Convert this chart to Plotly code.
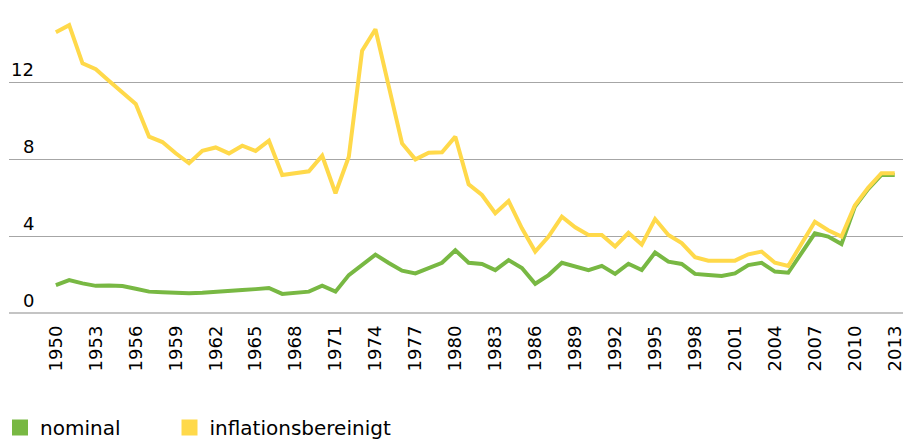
import plotly.graph_objects as go

years = list(range(1950, 2014))

nominal = [
    1.45, 1.71, 1.54, 1.41, 1.43, 1.40, 1.26, 1.11, 1.08, 1.05,
    1.02, 1.05, 1.08, 1.15, 1.19, 1.24, 1.30, 0.99, 1.06, 1.11,
    1.42, 1.11, 1.97, 2.53, 3.03, 2.60, 2.20, 2.06, 2.33, 2.61,
    3.26, 2.61, 2.55, 2.23, 2.75, 2.34, 1.52, 1.97, 2.61, 2.44,
    2.23, 2.45, 2.03, 2.56, 2.23, 3.14, 2.67, 2.55, 2.03, 1.97,
    1.92, 2.06, 2.49, 2.61, 2.15, 2.09, 3.15, 4.14, 3.97, 3.58,
    5.52, 6.44, 7.17, 7.17,
]

inflationsbereinigt = [
    14.58, 14.95, 12.97, 12.66, 12.05, 11.45, 10.86, 9.16, 8.88, 8.30,
    7.78, 8.43, 8.60, 8.29, 8.69, 8.42, 8.95, 7.17, 7.27, 7.36,
    8.17, 6.22, 8.12, 13.63, 14.74, 11.67, 8.81, 7.98, 8.33, 8.35,
    9.16, 6.68, 6.13, 5.18, 5.82, 4.40, 3.19, 3.97, 5.00, 4.45,
    4.05, 4.05, 3.46, 4.17, 3.55, 4.88, 4.05, 3.63, 2.90, 2.72,
    2.72, 2.72, 3.05, 3.19, 2.61, 2.44, 3.60, 4.74, 4.30, 3.97,
    5.58, 6.50, 7.26, 7.26,
]

x_tick_years = list(range(1950, 2014, 3))
y_grid = [0, 4, 8, 12, 16]
y_label_vals = [0, 4, 8, 12]
y_label_text = ["0", "4", "8", "12"]

series_names = ["nominal", "inflationsbereinigt"]
series_colors = ["#78B843", "#FFD94A"]
legend_ids = ["legend", "legend2"]

FONT = "DejaVu Sans, Verdana, sans-serif"

fig = go.Figure()
for name, vals, col in zip(series_names, [nominal, inflationsbereinigt], series_colors):
    fig.add_trace(go.Scatter(
        x=years, y=vals, mode="lines", name=name, showlegend=False,
        line=dict(color=col, width=4), hoverinfo="x+y+name",
    ))
# legend entries as filled squares
for name, col, lg in zip(series_names, series_colors, legend_ids):
    fig.add_trace(go.Scatter(
        x=[None], y=[None], mode="markers", name=name, legend=lg,
        marker=dict(symbol="square", size=16, color=col),
    ))

# y tick labels placed above the gridlines, right-aligned
for v, t in zip(y_label_vals, y_label_text):
    fig.add_annotation(
        x=0.0, xref="paper", y=v, yref="y", text=t, showarrow=False,
        xanchor="right", yanchor="bottom", xshift=27, yshift=0,
        font=dict(family=FONT, size=18, color="#000000"),
    )

legend_common = dict(
    orientation="h", xref="container", yref="container",
    y=0.0262, xanchor="left", yanchor="middle",
    font=dict(family=FONT, size=20, color="#000000"),
    bgcolor="rgba(0,0,0,0)",
)

fig.update_layout(
    width=905, height=439,
    margin=dict(l=9, r=0, t=5, b=126),
    paper_bgcolor="white", plot_bgcolor="white",
    font=dict(family=FONT, size=18, color="#000000"),
    xaxis=dict(
        range=[1946.48, 2013.62],
        tickvals=x_tick_years, ticktext=[str(y) for y in x_tick_years],
        tickangle=-90, showgrid=False, zeroline=False, showline=False,
        ticks="", ticklabelstandoff=8, ticklabeloverflow="allow",
        tickfont=dict(family=FONT, size=18, color="#000000"),
    ),
    yaxis=dict(
        range=[0, 16], tickvals=y_grid, showticklabels=False,
        showgrid=True, gridcolor="#a6a6a6", gridwidth=1,
        zeroline=True, zerolinecolor="#c4c4c4", zerolinewidth=2,
        showline=False, ticks="",
    ),
    legend=dict(x=-0.0127, **legend_common),
    legend2=dict(x=0.1873, **legend_common),
    showlegend=True,
)

fig.write_html(
    "out.html",
    config={"displayModeBar": False},
    post_script="document.body.style.margin='0';document.body.style.overflow='hidden';",
)
